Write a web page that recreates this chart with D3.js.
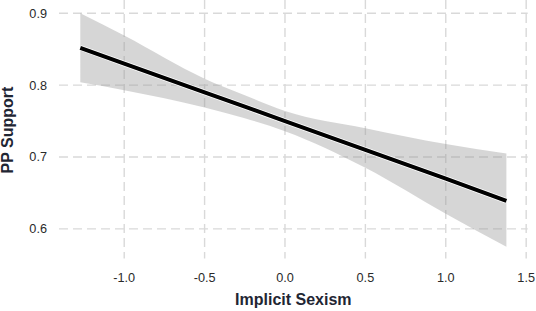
<!DOCTYPE html>
<html>
<head>
<meta charset="utf-8">
<script src="https://cdn.jsdelivr.net/npm/d3@7"></script>
<style>
  body { margin: 0; background: #fff; }
  #chart { width: 536px; height: 311px; }
  text { font-family: "Liberation Sans", Arial, sans-serif; }
</style>
</head>
<body>
<div id="chart"></div>
<script>
// Fitted line with confidence band
const xVals     = [-1.273, -1.0, -0.5, -0.25, 0.0, 0.5, 1.0, 1.377];
const fitVals   = [0.852, 0.830, 0.790, 0.770, 0.750, 0.710, 0.670, 0.639];
const upperVals = [0.900, 0.869, 0.809, 0.786, 0.764, 0.740, 0.718, 0.705];
const lowerVals = [0.804, 0.793, 0.769, 0.754, 0.736, 0.685, 0.621, 0.575];

const xTicks = [-1.0, -0.5, 0.0, 0.5, 1.0, 1.5];
const yTicks = [0.6, 0.7, 0.8, 0.9];

const xTitle = "Implicit Sexism";
const yTitle = "PP Support";

const data = xVals.map((x, i) => ({x: x, fit: fitVals[i], lo: lowerVals[i], hi: upperVals[i]}));

const margin = {top: 1.6, right: 8.3, bottom: 52.5, left: 59};
const width = 536 - margin.left - margin.right;
const height = 311 - margin.top - margin.bottom;

const svg = d3.select("#chart").append("svg")
    .attr("width", 536)
    .attr("height", 311)
    .append("g")
    .attr("transform", `translate(${margin.left}, ${margin.top})`);

// ggplot style 5% expansion
const xMin = d3.min(xVals), xMax = d3.max(xVals);
const xPad = (xMax - xMin) * 0.05;
const yMin = d3.min(lowerVals), yMax = d3.max(upperVals);
const yPad = (yMax - yMin) * 0.05;

const x = d3.scaleLinear().domain([xMin - xPad, xMax + xPad]).range([0, width]);
const y = d3.scaleLinear().domain([yMin - yPad, yMax + yPad]).range([height, 0]);

// grid
const gridColor = "#d9d9d9";
svg.append("g").selectAll("line.hgrid")
    .data(yTicks).enter().append("line")
    .attr("class", "hgrid")
    .attr("x1", 0).attr("x2", width)
    .attr("y1", d => y(d)).attr("y2", d => y(d))
    .attr("stroke", gridColor).attr("stroke-width", 1.4)
    .attr("stroke-dasharray", "9,5");

svg.append("g").selectAll("line.vgrid")
    .data(xTicks).enter().append("line")
    .attr("class", "vgrid")
    .attr("y1", -margin.top).attr("y2", height)
    .attr("x1", d => x(d)).attr("x2", d => x(d))
    .attr("stroke", gridColor).attr("stroke-width", 1.4)
    .attr("stroke-dasharray", "9,5");

// band
const area = d3.area()
    .x(d => x(d.x))
    .y0(d => y(d.lo))
    .y1(d => y(d.hi))
    .curve(d3.curveMonotoneX);

svg.append("path")
    .datum(data)
    .attr("d", area)
    .attr("fill", "#999999")
    .attr("fill-opacity", 0.4);

// fit line with thin white halo
const line = d3.line()
    .x(d => x(d.x))
    .y(d => y(d.fit));

svg.append("path")
    .datum(data)
    .attr("d", line)
    .attr("fill", "none")
    .attr("stroke", "#fff")
    .attr("stroke-width", 5.5);

svg.append("path")
    .datum(data)
    .attr("d", line)
    .attr("fill", "none")
    .attr("stroke", "#000")
    .attr("stroke-width", 4);

// tick labels
const tickColor = "#2a2a2a";
svg.append("g").selectAll("text.xt")
    .data(xTicks).enter().append("text")
    .attr("class", "xt")
    .attr("x", d => x(d))
    .attr("y", 282 - margin.top)
    .attr("text-anchor", "middle")
    .style("font-size", "12.7px")
    .style("fill", tickColor)
    .text(d => d.toFixed(1));

svg.append("g").selectAll("text.yt")
    .data(yTicks).enter().append("text")
    .attr("class", "yt")
    .attr("x", -12)
    .attr("y", d => y(d))
    .attr("dy", "0.35em")
    .attr("text-anchor", "end")
    .style("font-size", "12.7px")
    .style("fill", tickColor)
    .text(d => d.toFixed(1));

// axis titles
svg.append("text")
    .attr("x", width / 2)
    .attr("y", 305.5 - margin.top)
    .attr("text-anchor", "middle")
    .style("font-size", "16px")
    .style("font-weight", "bold")
    .style("fill", "#1f2633")
    .text(xTitle);

svg.append("text")
    .attr("transform", `translate(${13.3 - margin.left}, ${height / 2}) rotate(-90)`)
    .attr("text-anchor", "middle")
    .style("font-size", "16px")
    .style("font-weight", "bold")
    .style("fill", "#1f2633")
    .text(yTitle);
</script>
</body>
</html>
